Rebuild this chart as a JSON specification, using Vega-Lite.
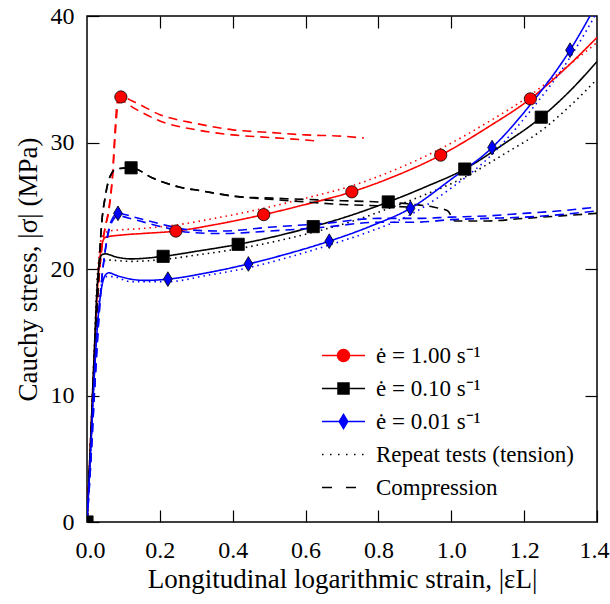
{
  "$schema": "https://vega.github.io/schema/vega-lite/v6.json",
  "width": 510,
  "height": 506,
  "autosize": {"type": "none"},
  "padding": {"left": 87, "top": 16, "right": 13, "bottom": 82},
  "background": "white",
  "config": {
    "font": "Liberation Serif",
    "view": {"stroke": "black", "strokeWidth": 1.5},
    "axis": {
      "grid": false, "domain": false, "tickColor": "black", "tickWidth": 1.2, "offset": -12,
      "tickSize": 12, "labelFlush": false, "labelColor": "black", "titleColor": "black", "labelFont": "Liberation Serif",
      "titleFont": "Liberation Serif", "labelFontSize": 24, "titleFontSize": 27, "titleFontWeight": "normal"
    }
  },
  "datasets": {
    "curves": [
      {"run":"R-T","rate":"1.00","test":"tension","x":0,"y":0},{"run":"R-T","rate":"1.00","test":"tension","x":0.01,"y":6.5},{"run":"R-T","rate":"1.00","test":"tension","x":0.02,"y":13},{"run":"R-T","rate":"1.00","test":"tension","x":0.03,"y":19},{"run":"R-T","rate":"1.00","test":"tension","x":0.04,"y":21.8},{"run":"R-T","rate":"1.00","test":"tension","x":0.05,"y":22.5},{"run":"R-T","rate":"1.00","test":"tension","x":0.1,"y":22.7},{"run":"R-T","rate":"1.00","test":"tension","x":0.15,"y":22.8},{"run":"R-T","rate":"1.00","test":"tension","x":0.244,"y":23.0},{"run":"R-T","rate":"1.00","test":"tension","x":0.35,"y":23.5},{"run":"R-T","rate":"1.00","test":"tension","x":0.485,"y":24.3},{"run":"R-T","rate":"1.00","test":"tension","x":0.6,"y":25.1},{"run":"R-T","rate":"1.00","test":"tension","x":0.727,"y":26.1},{"run":"R-T","rate":"1.00","test":"tension","x":0.85,"y":27.4},{"run":"R-T","rate":"1.00","test":"tension","x":0.971,"y":29.0},{"run":"R-T","rate":"1.00","test":"tension","x":1.1,"y":31.2},{"run":"R-T","rate":"1.00","test":"tension","x":1.217,"y":33.45},{"run":"R-T","rate":"1.00","test":"tension","x":1.3,"y":35.5},{"run":"R-T","rate":"1.00","test":"tension","x":1.4,"y":38.3},
      {"run":"R-R","rate":"1.00","test":"repeat","x":0,"y":0},{"run":"R-R","rate":"1.00","test":"repeat","x":0.01,"y":6.5},{"run":"R-R","rate":"1.00","test":"repeat","x":0.02,"y":13.5},{"run":"R-R","rate":"1.00","test":"repeat","x":0.03,"y":20},{"run":"R-R","rate":"1.00","test":"repeat","x":0.04,"y":22.4},{"run":"R-R","rate":"1.00","test":"repeat","x":0.06,"y":23.0},{"run":"R-R","rate":"1.00","test":"repeat","x":0.15,"y":23.2},{"run":"R-R","rate":"1.00","test":"repeat","x":0.25,"y":23.5},{"run":"R-R","rate":"1.00","test":"repeat","x":0.35,"y":24.0},{"run":"R-R","rate":"1.00","test":"repeat","x":0.485,"y":24.8},{"run":"R-R","rate":"1.00","test":"repeat","x":0.6,"y":25.6},{"run":"R-R","rate":"1.00","test":"repeat","x":0.73,"y":26.6},{"run":"R-R","rate":"1.00","test":"repeat","x":0.85,"y":27.9},{"run":"R-R","rate":"1.00","test":"repeat","x":0.97,"y":29.5},{"run":"R-R","rate":"1.00","test":"repeat","x":1.1,"y":31.6},{"run":"R-R","rate":"1.00","test":"repeat","x":1.22,"y":33.8},{"run":"R-R","rate":"1.00","test":"repeat","x":1.3,"y":35.6},{"run":"R-R","rate":"1.00","test":"repeat","x":1.4,"y":37.9},
      {"run":"R-C1","rate":"1.00","test":"compression","x":0,"y":0},{"run":"R-C1","rate":"1.00","test":"compression","x":0.01,"y":5.5},{"run":"R-C1","rate":"1.00","test":"compression","x":0.02,"y":12},{"run":"R-C1","rate":"1.00","test":"compression","x":0.03,"y":18},{"run":"R-C1","rate":"1.00","test":"compression","x":0.04,"y":21.5},{"run":"R-C1","rate":"1.00","test":"compression","x":0.05,"y":23.3},{"run":"R-C1","rate":"1.00","test":"compression","x":0.06,"y":24.8},{"run":"R-C1","rate":"1.00","test":"compression","x":0.07,"y":27.5},{"run":"R-C1","rate":"1.00","test":"compression","x":0.077,"y":31},{"run":"R-C1","rate":"1.00","test":"compression","x":0.083,"y":33.2},{"run":"R-C1","rate":"1.00","test":"compression","x":0.093,"y":33.6},{"run":"R-C1","rate":"1.00","test":"compression","x":0.13,"y":33.2},{"run":"R-C1","rate":"1.00","test":"compression","x":0.2,"y":32.2},{"run":"R-C1","rate":"1.00","test":"compression","x":0.3,"y":31.5},{"run":"R-C1","rate":"1.00","test":"compression","x":0.4,"y":31.0},{"run":"R-C1","rate":"1.00","test":"compression","x":0.5,"y":30.8},{"run":"R-C1","rate":"1.00","test":"compression","x":0.6,"y":30.6},{"run":"R-C1","rate":"1.00","test":"compression","x":0.7,"y":30.5},{"run":"R-C1","rate":"1.00","test":"compression","x":0.76,"y":30.35},
      {"run":"R-C2","rate":"1.00","test":"compression","x":0,"y":0},{"run":"R-C2","rate":"1.00","test":"compression","x":0.01,"y":5.5},{"run":"R-C2","rate":"1.00","test":"compression","x":0.02,"y":12},{"run":"R-C2","rate":"1.00","test":"compression","x":0.03,"y":18},{"run":"R-C2","rate":"1.00","test":"compression","x":0.04,"y":21.5},{"run":"R-C2","rate":"1.00","test":"compression","x":0.05,"y":23.3},{"run":"R-C2","rate":"1.00","test":"compression","x":0.06,"y":24.6},{"run":"R-C2","rate":"1.00","test":"compression","x":0.07,"y":27.2},{"run":"R-C2","rate":"1.00","test":"compression","x":0.078,"y":30.8},{"run":"R-C2","rate":"1.00","test":"compression","x":0.085,"y":33.0},{"run":"R-C2","rate":"1.00","test":"compression","x":0.093,"y":33.3},{"run":"R-C2","rate":"1.00","test":"compression","x":0.13,"y":32.7},{"run":"R-C2","rate":"1.00","test":"compression","x":0.2,"y":31.7},{"run":"R-C2","rate":"1.00","test":"compression","x":0.3,"y":31.0},{"run":"R-C2","rate":"1.00","test":"compression","x":0.4,"y":30.6},{"run":"R-C2","rate":"1.00","test":"compression","x":0.5,"y":30.4},{"run":"R-C2","rate":"1.00","test":"compression","x":0.6,"y":30.2},{"run":"R-C2","rate":"1.00","test":"compression","x":0.64,"y":30.1},
      {"run":"K-T","rate":"0.10","test":"tension","x":0,"y":0},{"run":"K-T","rate":"0.10","test":"tension","x":0.01,"y":6.5},{"run":"K-T","rate":"0.10","test":"tension","x":0.02,"y":13.5},{"run":"K-T","rate":"0.10","test":"tension","x":0.03,"y":19.5},{"run":"K-T","rate":"0.10","test":"tension","x":0.04,"y":21.1},{"run":"K-T","rate":"0.10","test":"tension","x":0.05,"y":21.2},{"run":"K-T","rate":"0.10","test":"tension","x":0.08,"y":20.95},{"run":"K-T","rate":"0.10","test":"tension","x":0.12,"y":20.8},{"run":"K-T","rate":"0.10","test":"tension","x":0.209,"y":21.0},{"run":"K-T","rate":"0.10","test":"tension","x":0.3,"y":21.4},{"run":"K-T","rate":"0.10","test":"tension","x":0.415,"y":21.95},{"run":"K-T","rate":"0.10","test":"tension","x":0.52,"y":22.6},{"run":"K-T","rate":"0.10","test":"tension","x":0.621,"y":23.35},{"run":"K-T","rate":"0.10","test":"tension","x":0.72,"y":24.2},{"run":"K-T","rate":"0.10","test":"tension","x":0.827,"y":25.3},{"run":"K-T","rate":"0.10","test":"tension","x":0.93,"y":26.5},{"run":"K-T","rate":"0.10","test":"tension","x":1.037,"y":27.9},{"run":"K-T","rate":"0.10","test":"tension","x":1.14,"y":29.8},{"run":"K-T","rate":"0.10","test":"tension","x":1.247,"y":32.0},{"run":"K-T","rate":"0.10","test":"tension","x":1.33,"y":34.2},{"run":"K-T","rate":"0.10","test":"tension","x":1.4,"y":36.4},
      {"run":"K-R","rate":"0.10","test":"repeat","x":0,"y":0},{"run":"K-R","rate":"0.10","test":"repeat","x":0.01,"y":6.5},{"run":"K-R","rate":"0.10","test":"repeat","x":0.02,"y":13.5},{"run":"K-R","rate":"0.10","test":"repeat","x":0.03,"y":19.8},{"run":"K-R","rate":"0.10","test":"repeat","x":0.04,"y":20.6},{"run":"K-R","rate":"0.10","test":"repeat","x":0.06,"y":20.7},{"run":"K-R","rate":"0.10","test":"repeat","x":0.12,"y":20.6},{"run":"K-R","rate":"0.10","test":"repeat","x":0.209,"y":20.75},{"run":"K-R","rate":"0.10","test":"repeat","x":0.3,"y":21.1},{"run":"K-R","rate":"0.10","test":"repeat","x":0.415,"y":21.6},{"run":"K-R","rate":"0.10","test":"repeat","x":0.52,"y":22.2},{"run":"K-R","rate":"0.10","test":"repeat","x":0.621,"y":22.9},{"run":"K-R","rate":"0.10","test":"repeat","x":0.72,"y":23.7},{"run":"K-R","rate":"0.10","test":"repeat","x":0.83,"y":24.8},{"run":"K-R","rate":"0.10","test":"repeat","x":0.93,"y":25.9},{"run":"K-R","rate":"0.10","test":"repeat","x":1.04,"y":27.3},{"run":"K-R","rate":"0.10","test":"repeat","x":1.14,"y":29.0},{"run":"K-R","rate":"0.10","test":"repeat","x":1.25,"y":31.0},{"run":"K-R","rate":"0.10","test":"repeat","x":1.33,"y":33.0},{"run":"K-R","rate":"0.10","test":"repeat","x":1.4,"y":35.0},
      {"run":"K-C1","rate":"0.10","test":"compression","x":0,"y":0},{"run":"K-C1","rate":"0.10","test":"compression","x":0.01,"y":6},{"run":"K-C1","rate":"0.10","test":"compression","x":0.02,"y":12.5},{"run":"K-C1","rate":"0.10","test":"compression","x":0.03,"y":18.5},{"run":"K-C1","rate":"0.10","test":"compression","x":0.04,"y":23.5},{"run":"K-C1","rate":"0.10","test":"compression","x":0.05,"y":25.7},{"run":"K-C1","rate":"0.10","test":"compression","x":0.063,"y":27.3},{"run":"K-C1","rate":"0.10","test":"compression","x":0.08,"y":27.9},{"run":"K-C1","rate":"0.10","test":"compression","x":0.121,"y":28.0},{"run":"K-C1","rate":"0.10","test":"compression","x":0.18,"y":27.2},{"run":"K-C1","rate":"0.10","test":"compression","x":0.25,"y":26.5},{"run":"K-C1","rate":"0.10","test":"compression","x":0.31,"y":26.2},{"run":"K-C1","rate":"0.10","test":"compression","x":0.42,"y":25.7},{"run":"K-C1","rate":"0.10","test":"compression","x":0.51,"y":25.6},{"run":"K-C1","rate":"0.10","test":"compression","x":0.6,"y":25.5},{"run":"K-C1","rate":"0.10","test":"compression","x":0.7,"y":25.4},{"run":"K-C1","rate":"0.10","test":"compression","x":0.8,"y":25.3},{"run":"K-C1","rate":"0.10","test":"compression","x":0.9,"y":25.1},{"run":"K-C1","rate":"0.10","test":"compression","x":0.95,"y":24.9},{"run":"K-C1","rate":"0.10","test":"compression","x":0.99,"y":24.6},{"run":"K-C1","rate":"0.10","test":"compression","x":1.01,"y":23.8},{"run":"K-C1","rate":"0.10","test":"compression","x":1.1,"y":23.8},{"run":"K-C1","rate":"0.10","test":"compression","x":1.2,"y":24.0},{"run":"K-C1","rate":"0.10","test":"compression","x":1.3,"y":24.2},{"run":"K-C1","rate":"0.10","test":"compression","x":1.4,"y":24.4},
      {"run":"K-C2","rate":"0.10","test":"compression","x":0,"y":0},{"run":"K-C2","rate":"0.10","test":"compression","x":0.01,"y":6},{"run":"K-C2","rate":"0.10","test":"compression","x":0.02,"y":12.5},{"run":"K-C2","rate":"0.10","test":"compression","x":0.03,"y":18.5},{"run":"K-C2","rate":"0.10","test":"compression","x":0.04,"y":23.5},{"run":"K-C2","rate":"0.10","test":"compression","x":0.05,"y":25.7},{"run":"K-C2","rate":"0.10","test":"compression","x":0.063,"y":27.3},{"run":"K-C2","rate":"0.10","test":"compression","x":0.08,"y":27.9},{"run":"K-C2","rate":"0.10","test":"compression","x":0.121,"y":28.0},{"run":"K-C2","rate":"0.10","test":"compression","x":0.18,"y":27.2},{"run":"K-C2","rate":"0.10","test":"compression","x":0.25,"y":26.5},{"run":"K-C2","rate":"0.10","test":"compression","x":0.31,"y":26.2},{"run":"K-C2","rate":"0.10","test":"compression","x":0.42,"y":25.7},{"run":"K-C2","rate":"0.10","test":"compression","x":0.51,"y":25.5},{"run":"K-C2","rate":"0.10","test":"compression","x":0.6,"y":25.3},{"run":"K-C2","rate":"0.10","test":"compression","x":0.7,"y":25.1},{"run":"K-C2","rate":"0.10","test":"compression","x":0.8,"y":25.0},{"run":"K-C2","rate":"0.10","test":"compression","x":0.88,"y":24.9},
      {"run":"B-T","rate":"0.01","test":"tension","x":0,"y":0},{"run":"B-T","rate":"0.01","test":"tension","x":0.01,"y":5.5},{"run":"B-T","rate":"0.01","test":"tension","x":0.02,"y":11.5},{"run":"B-T","rate":"0.01","test":"tension","x":0.03,"y":16},{"run":"B-T","rate":"0.01","test":"tension","x":0.04,"y":18.5},{"run":"B-T","rate":"0.01","test":"tension","x":0.05,"y":19.5},{"run":"B-T","rate":"0.01","test":"tension","x":0.06,"y":19.7},{"run":"B-T","rate":"0.01","test":"tension","x":0.08,"y":19.5},{"run":"B-T","rate":"0.01","test":"tension","x":0.12,"y":19.2},{"run":"B-T","rate":"0.01","test":"tension","x":0.16,"y":19.1},{"run":"B-T","rate":"0.01","test":"tension","x":0.222,"y":19.2},{"run":"B-T","rate":"0.01","test":"tension","x":0.33,"y":19.7},{"run":"B-T","rate":"0.01","test":"tension","x":0.443,"y":20.4},{"run":"B-T","rate":"0.01","test":"tension","x":0.55,"y":21.2},{"run":"B-T","rate":"0.01","test":"tension","x":0.665,"y":22.2},{"run":"B-T","rate":"0.01","test":"tension","x":0.78,"y":23.4},{"run":"B-T","rate":"0.01","test":"tension","x":0.888,"y":24.8},{"run":"B-T","rate":"0.01","test":"tension","x":1.0,"y":27.1},{"run":"B-T","rate":"0.01","test":"tension","x":1.112,"y":29.6},{"run":"B-T","rate":"0.01","test":"tension","x":1.22,"y":33.1},{"run":"B-T","rate":"0.01","test":"tension","x":1.326,"y":37.3},{"run":"B-T","rate":"0.01","test":"tension","x":1.4,"y":41.0},
      {"run":"B-R","rate":"0.01","test":"repeat","x":0,"y":0},{"run":"B-R","rate":"0.01","test":"repeat","x":0.01,"y":5.5},{"run":"B-R","rate":"0.01","test":"repeat","x":0.02,"y":11.5},{"run":"B-R","rate":"0.01","test":"repeat","x":0.03,"y":16.5},{"run":"B-R","rate":"0.01","test":"repeat","x":0.04,"y":18.8},{"run":"B-R","rate":"0.01","test":"repeat","x":0.05,"y":19.4},{"run":"B-R","rate":"0.01","test":"repeat","x":0.07,"y":19.4},{"run":"B-R","rate":"0.01","test":"repeat","x":0.12,"y":19.0},{"run":"B-R","rate":"0.01","test":"repeat","x":0.222,"y":19.0},{"run":"B-R","rate":"0.01","test":"repeat","x":0.33,"y":19.5},{"run":"B-R","rate":"0.01","test":"repeat","x":0.443,"y":20.1},{"run":"B-R","rate":"0.01","test":"repeat","x":0.55,"y":20.9},{"run":"B-R","rate":"0.01","test":"repeat","x":0.665,"y":21.9},{"run":"B-R","rate":"0.01","test":"repeat","x":0.78,"y":23.0},{"run":"B-R","rate":"0.01","test":"repeat","x":0.888,"y":24.3},{"run":"B-R","rate":"0.01","test":"repeat","x":1.0,"y":26.4},{"run":"B-R","rate":"0.01","test":"repeat","x":1.11,"y":29.0},{"run":"B-R","rate":"0.01","test":"repeat","x":1.22,"y":32.6},{"run":"B-R","rate":"0.01","test":"repeat","x":1.33,"y":36.9},{"run":"B-R","rate":"0.01","test":"repeat","x":1.4,"y":40.3},
      {"run":"B-C1","rate":"0.01","test":"compression","x":0,"y":0},{"run":"B-C1","rate":"0.01","test":"compression","x":0.01,"y":4.5},{"run":"B-C1","rate":"0.01","test":"compression","x":0.02,"y":10},{"run":"B-C1","rate":"0.01","test":"compression","x":0.03,"y":15},{"run":"B-C1","rate":"0.01","test":"compression","x":0.04,"y":19},{"run":"B-C1","rate":"0.01","test":"compression","x":0.05,"y":21.5},{"run":"B-C1","rate":"0.01","test":"compression","x":0.06,"y":23.2},{"run":"B-C1","rate":"0.01","test":"compression","x":0.07,"y":24.0},{"run":"B-C1","rate":"0.01","test":"compression","x":0.085,"y":24.4},{"run":"B-C1","rate":"0.01","test":"compression","x":0.13,"y":24.1},{"run":"B-C1","rate":"0.01","test":"compression","x":0.21,"y":23.5},{"run":"B-C1","rate":"0.01","test":"compression","x":0.28,"y":23.1},{"run":"B-C1","rate":"0.01","test":"compression","x":0.37,"y":23.0},{"run":"B-C1","rate":"0.01","test":"compression","x":0.5,"y":23.3},{"run":"B-C1","rate":"0.01","test":"compression","x":0.65,"y":23.6},{"run":"B-C1","rate":"0.01","test":"compression","x":0.8,"y":24.0},{"run":"B-C1","rate":"0.01","test":"compression","x":0.9,"y":24.0},{"run":"B-C1","rate":"0.01","test":"compression","x":1.0,"y":24.1},{"run":"B-C1","rate":"0.01","test":"compression","x":1.1,"y":24.2},{"run":"B-C1","rate":"0.01","test":"compression","x":1.2,"y":24.4},{"run":"B-C1","rate":"0.01","test":"compression","x":1.3,"y":24.6},{"run":"B-C1","rate":"0.01","test":"compression","x":1.4,"y":24.9},
      {"run":"B-C2","rate":"0.01","test":"compression","x":0,"y":0},{"run":"B-C2","rate":"0.01","test":"compression","x":0.01,"y":4.5},{"run":"B-C2","rate":"0.01","test":"compression","x":0.02,"y":10},{"run":"B-C2","rate":"0.01","test":"compression","x":0.03,"y":15},{"run":"B-C2","rate":"0.01","test":"compression","x":0.04,"y":19},{"run":"B-C2","rate":"0.01","test":"compression","x":0.05,"y":21.4},{"run":"B-C2","rate":"0.01","test":"compression","x":0.06,"y":23.0},{"run":"B-C2","rate":"0.01","test":"compression","x":0.07,"y":23.8},{"run":"B-C2","rate":"0.01","test":"compression","x":0.085,"y":24.2},{"run":"B-C2","rate":"0.01","test":"compression","x":0.13,"y":23.9},{"run":"B-C2","rate":"0.01","test":"compression","x":0.21,"y":23.3},{"run":"B-C2","rate":"0.01","test":"compression","x":0.28,"y":22.9},{"run":"B-C2","rate":"0.01","test":"compression","x":0.37,"y":22.8},{"run":"B-C2","rate":"0.01","test":"compression","x":0.5,"y":23.0},{"run":"B-C2","rate":"0.01","test":"compression","x":0.65,"y":23.3},{"run":"B-C2","rate":"0.01","test":"compression","x":0.8,"y":23.7},{"run":"B-C2","rate":"0.01","test":"compression","x":0.9,"y":23.7},{"run":"B-C2","rate":"0.01","test":"compression","x":1.0,"y":23.9},{"run":"B-C2","rate":"0.01","test":"compression","x":1.1,"y":24.0},{"run":"B-C2","rate":"0.01","test":"compression","x":1.2,"y":24.1},{"run":"B-C2","rate":"0.01","test":"compression","x":1.3,"y":24.3},{"run":"B-C2","rate":"0.01","test":"compression","x":1.4,"y":24.6}
    ],
    "marks": [
      {"key":"ė = 1.00 s⁻¹","rate":"1.00","x":0.093,"y":33.6},{"key":"ė = 1.00 s⁻¹","rate":"1.00","x":0.244,"y":23.0},{"key":"ė = 1.00 s⁻¹","rate":"1.00","x":0.485,"y":24.3},{"key":"ė = 1.00 s⁻¹","rate":"1.00","x":0.727,"y":26.1},{"key":"ė = 1.00 s⁻¹","rate":"1.00","x":0.971,"y":29.0},{"key":"ė = 1.00 s⁻¹","rate":"1.00","x":1.217,"y":33.45},
      {"key":"ė = 0.10 s⁻¹","rate":"0.10","x":0,"y":0},{"key":"ė = 0.10 s⁻¹","rate":"0.10","x":0.121,"y":28.0},{"key":"ė = 0.10 s⁻¹","rate":"0.10","x":0.209,"y":21.0},{"key":"ė = 0.10 s⁻¹","rate":"0.10","x":0.415,"y":21.95},{"key":"ė = 0.10 s⁻¹","rate":"0.10","x":0.621,"y":23.35},{"key":"ė = 0.10 s⁻¹","rate":"0.10","x":0.827,"y":25.3},{"key":"ė = 0.10 s⁻¹","rate":"0.10","x":1.037,"y":27.9},{"key":"ė = 0.10 s⁻¹","rate":"0.10","x":1.247,"y":32.0},
      {"key":"ė = 0.01 s⁻¹","rate":"0.01","x":0.085,"y":24.4},{"key":"ė = 0.01 s⁻¹","rate":"0.01","x":0.222,"y":19.2},{"key":"ė = 0.01 s⁻¹","rate":"0.01","x":0.443,"y":20.4},{"key":"ė = 0.01 s⁻¹","rate":"0.01","x":0.665,"y":22.2},{"key":"ė = 0.01 s⁻¹","rate":"0.01","x":0.888,"y":24.8},{"key":"ė = 0.01 s⁻¹","rate":"0.01","x":1.112,"y":29.6},{"key":"ė = 0.01 s⁻¹","rate":"0.01","x":1.326,"y":37.3}
    ]
  },
  "layer": [
    {
      "encoding": {
        "x": {"field": "x", "type": "quantitative", "scale": {"domain": [0, 1.4], "nice": false},
          "axis": {"orient": "bottom", "values": [0, 0.2, 0.4, 0.6, 0.8, 1.0, 1.2, 1.4], "format": ".1f",
            "title": "Longitudinal logarithmic strain, |εL|", "labelPadding": 16, "titlePadding": 4,
            "labelFlush": true, "labelFlushOffset": 12}},
        "y": {"field": "y", "type": "quantitative", "scale": {"domain": [0, 40], "nice": false},
          "axis": {"orient": "left", "values": [0, 10, 20, 30, 40], "title": "Cauchy stress, |σ| (MPa)",
            "labelPadding": 13, "titlePadding": 8}}
      },
      "layer": [
        {
          "data": {"name": "curves"},
          "transform": [{"filter": "datum.rate === '1.00'"}],
          "mark": {"type": "line", "clip": true, "strokeWidth": 1.6, "interpolate": "monotone", "stroke": "#ff0000"},
          "encoding": {
            "detail": {"field": "run"},
            "strokeDash": {"field": "test", "type": "nominal", "scale": {"domain": ["tension", "repeat", "compression"], "range": [[1, 0], [1.5, 4], [9, 6]]}, "legend": null}
          }
        },
        {
          "data": {"name": "curves"},
          "transform": [{"filter": "datum.rate === '0.10'"}],
          "mark": {"type": "line", "clip": true, "strokeWidth": 1.6, "interpolate": "monotone", "stroke": "#000000"},
          "encoding": {
            "detail": {"field": "run"},
            "strokeDash": {"field": "test", "type": "nominal", "legend": null}
          }
        },
        {
          "data": {"name": "curves"},
          "transform": [{"filter": "datum.rate === '0.01'"}],
          "mark": {"type": "line", "clip": true, "strokeWidth": 1.6, "interpolate": "monotone", "stroke": "#0000ff"},
          "encoding": {
            "detail": {"field": "run"},
            "strokeDash": {"field": "test", "type": "nominal", "legend": null}
          }
        },
        {
          "data": {"name": "marks"},
          "transform": [{"filter": "datum.rate === '1.00'"}],
          "mark": {"type": "point", "shape": "circle", "filled": true, "clip": true, "size": 150, "fill": "#ff0000", "stroke": "black", "strokeWidth": 0.8, "opacity": 1}
        },
        {
          "data": {"name": "marks"},
          "transform": [{"filter": "datum.rate === '0.10'"}],
          "mark": {"type": "point", "shape": "square", "filled": true, "clip": true, "size": 150, "fill": "#000000", "stroke": "black", "strokeWidth": 0.8, "opacity": 1}
        },
        {
          "data": {"name": "marks"},
          "transform": [{"filter": "datum.rate === '0.01'"}],
          "mark": {"type": "point", "shape": "M0,-1.2L0.72,0L0,1.2L-0.72,0Z", "filled": true, "clip": true, "size": 150, "fill": "#0000ff", "stroke": "black", "strokeWidth": 0.8, "opacity": 1}
        },
        {
          "data": {"name": "marks"},
          "mark": {"type": "point", "opacity": 0, "filled": false},
          "encoding": {
            "fill": {"field": "key", "type": "nominal",
              "scale": {"domain": ["ė = 1.00 s⁻¹", "ė = 0.10 s⁻¹", "ė = 0.01 s⁻¹", "Repeat tests (tension)", "Compression"], "range": ["#ff0000", "#000000", "#0000ff", "transparent", "transparent"]},
              "legend": {
                "title": null, "orient": "bottom-right", "offset": 22, "padding": 0, "symbolSize": 100,
                "symbolOpacity": 1, "symbolStrokeWidth": 1.5, "symbolFillColor": "transparent",
                "labelFontSize": 23, "labelFont": "Liberation Serif", "labelColor": "black", "labelLimit": 400,
                "rowPadding": 9, "labelOffset": 21
              }},
            "stroke": {"field": "key", "type": "nominal",
              "scale": {"domain": ["ė = 1.00 s⁻¹", "ė = 0.10 s⁻¹", "ė = 0.01 s⁻¹", "Repeat tests (tension)", "Compression"], "range": ["#ff0000", "#000000", "#0000ff", "#000000", "#000000"]},
              "legend": {"title": null, "symbolFillColor": "transparent"}},
            "shape": {"field": "key", "type": "nominal",
              "scale": {"domain": ["ė = 1.00 s⁻¹", "ė = 0.10 s⁻¹", "ė = 0.01 s⁻¹", "Repeat tests (tension)", "Compression"],
                "range": [
                  "M-4.3,0H4.3M1.2,0A1.2,1.2 0 1,1 -1.2,0A1.2,1.2 0 1,1 1.2,0Z",
                  "M-4.3,0H4.3M-1.1,-1.1H1.1V1.1H-1.1Z",
                  "M-4.3,0H4.3M0,-1.4L0.85,0L0,1.4L-0.85,0Z",
                  "M-4.3,0H-4M-2.7,0H-2.4M-1.1,0H-0.8M0.5,0H0.8M2.1,0H2.4M3.7,0H4",
                  "M-4.3,0H-2.3M0.5,0H2.5"
                ]},
              "legend": {"title": null, "symbolFillColor": "transparent"}}
          }
        }
      ]
    },
    {
      "data": {"name": "marks"},
      "mark": {"type": "point", "opacity": 0},
      "encoding": {
        "x": {"field": "x", "type": "quantitative", "scale": {"domain": [0, 1.4], "nice": false},
          "axis": {"orient": "top", "values": [0.2, 0.4, 0.6, 0.8, 1.0, 1.2], "labels": false, "title": null}},
        "y": {"field": "y", "type": "quantitative", "scale": {"domain": [0, 40], "nice": false},
          "axis": {"orient": "right", "values": [10, 20, 30], "labels": false, "title": null}}
      }
    }
  ],
  "resolve": {"scale": {"x": "independent", "y": "independent"}}
}
